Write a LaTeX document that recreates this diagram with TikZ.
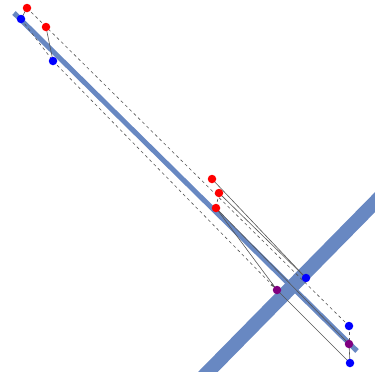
\documentclass[tikz,border=0pt]{standalone}
\usetikzlibrary{arrows.meta}
\definecolor{bandblue}{RGB}{104,136,194}
\definecolor{linegray}{RGB}{85,85,85}
\definecolor{dotpurple}{RGB}{128,0,128}
\tikzset{
  dotbase/.style={circle,inner sep=0pt,minimum size=8.5pt},
  reddot/.style={dotbase,fill=red},
  bluedot/.style={dotbase,fill=blue},
  purpledot/.style={dotbase,fill=dotpurple},
  ray/.style={draw=linegray,line width=0.6pt},
  dray/.style={draw=linegray,line width=0.6pt,dash pattern=on 3pt off 3pt},
  band/.style={draw=bandblue}
}
\begin{document}
\begin{tikzpicture}[x=1pt,y=-1pt]
\useasboundingbox (0,0) rectangle (375,372);
% points
\coordinate (R1) at (27,8);
\coordinate (R2) at (46,27);
\coordinate (B1) at (21,19);
\coordinate (B2) at (53,61);
\coordinate (R3) at (212,179);
\coordinate (R4) at (219,193);
\coordinate (R5) at (216,208);
\coordinate (B3) at (306,278);
\coordinate (P1) at (277,290);
\coordinate (B4) at (349,326);
\coordinate (P2) at (349,344);
\coordinate (B5) at (350,363);
\coordinate (M1a) at (14,13);
\coordinate (M1b) at (357,351);
\coordinate (M2a) at (198,382);
\coordinate (M2b) at (385,192);
% bands
\begin{scope}
\clip (0,0) rectangle (375,372);
\draw[band,line width=14pt] (M2a) -- (M2b);
\end{scope}
\draw[band,line width=5pt] (M1a) -- (M1b);
% rays
\draw[ray] (R1) -- (B1);
\draw[ray] (R2) -- (B2);
\draw[dray] (R1) -- (B4);
\draw[dray] (B1) -- (B2);
\draw[dray,-{Stealth[length=4pt,width=3pt]},shorten >=4pt] (B2) -- (P1);
\draw[ray] (R3) -- (B3);
\draw[ray] (R4) -- (B3);
\draw[dray] (R4) -- (R5);
\draw[ray] (R5) -- (P1);
\draw[ray] (P1) -- (B5);
\draw[ray] (R5) -- (P2);
\draw[dray] (B4) -- (P2);
\draw[ray] (P2) -- (B5);
% dots
\node[reddot] (r1) at (R1) {};
\node[reddot] (r2) at (R2) {};
\node[bluedot] (b1) at (B1) {};
\node[bluedot] (b2) at (B2) {};
\node[reddot] (r3) at (R3) {};
\node[reddot] (r4) at (R4) {};
\node[reddot] (r5) at (R5) {};
\node[bluedot] (b3) at (B3) {};
\node[purpledot] (p1) at (P1) {};
\node[bluedot] (b4) at (B4) {};
\node[purpledot] (p2) at (P2) {};
\node[bluedot] (b5) at (B5) {};
\end{tikzpicture}
\end{document}
